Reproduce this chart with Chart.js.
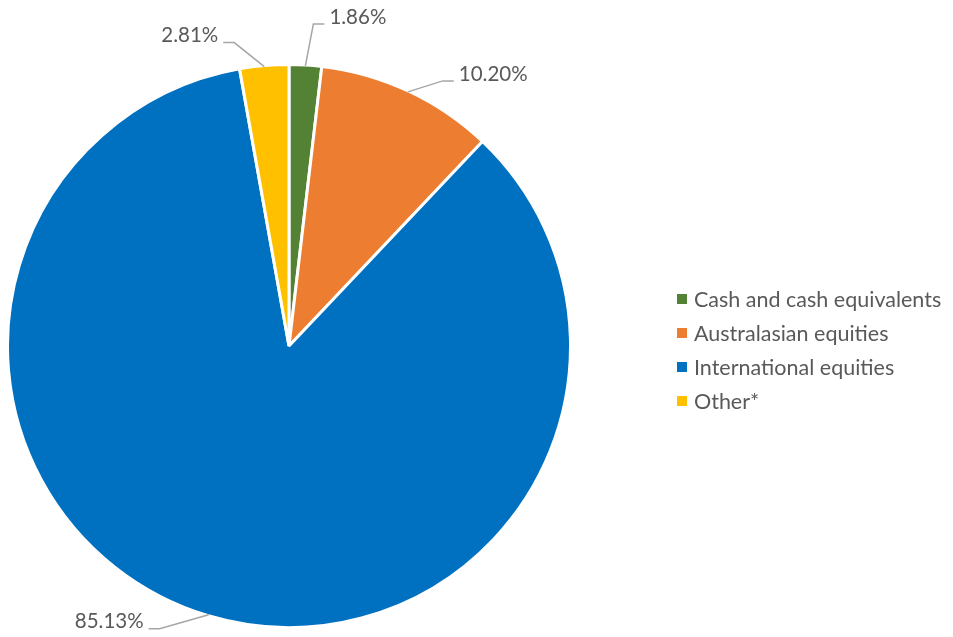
<!DOCTYPE html>
<html>
<head>
<meta charset="utf-8">
<script src="https://cdn.jsdelivr.net/npm/chart.js@4"></script>
<style>
	html, body {
		margin: 0;
		padding: 0;
		background: #ffffff;
	}

	.chart-wrap {
		position: relative;
		width: 953px;
		height: 637px;
	}

	.legend {
		position: absolute;
		left: 677px;
		top: 282px;
		margin: 0;
		padding: 0;
		list-style: none;
		font-family: Lato, "Open Sans", sans-serif;
		font-size: 21.5px;
		color: #595959;
	}

	.legend li {
		display: flex;
		align-items: center;
		height: 34px;
		white-space: nowrap;
	}

	.legend .swatch {
		display: inline-block;
		width: 10px;
		height: 10px;
		margin-right: 7px;
	}
</style>
</head>
<body>
<div class="chart-wrap">
	<canvas id="allocationChart" width="953" height="637"></canvas>
	<ul class="legend" id="allocationLegend"></ul>
</div>
<script>
const categories = [
	"Cash and cash equivalents",
	"Australasian equities",
	"International equities",
	"Other*"
];

const shares = [1.86, 10.20, 85.13, 2.81];

const sliceColors = ["#548235", "#ED7D31", "#0070C0", "#FFC000"];

/* leader line elbows, relative to the slice edge */
const leaderOffsets = [
	[8, -42],
	[35, -11],
	[-49, 14],
	[-30, -24]
];

const leaderLabels = {
	id: "leaderLabels",
	afterDatasetsDraw(chart) {
		const { ctx } = chart;
		const meta = chart.getDatasetMeta(0);

		ctx.save();
		ctx.font = "20.5px Lato, 'Open Sans', sans-serif";
		ctx.textBaseline = "middle";

		meta.data.forEach((arc, i) => {
			const { x, y, startAngle, endAngle, outerRadius } = arc.getProps(
				["x", "y", "startAngle", "endAngle", "outerRadius"],
				true
			);
			const mid = (startAngle + endAngle) / 2;
			const edgeX = x + Math.cos(mid) * (outerRadius - 1);
			const edgeY = y + Math.sin(mid) * (outerRadius - 1);
			const elbowX = edgeX + leaderOffsets[i][0];
			const elbowY = edgeY + leaderOffsets[i][1];
			const side = leaderOffsets[i][0] >= 0 ? 1 : -1;
			const endX = elbowX + side * 11;

			ctx.strokeStyle = "#A6A6A6";
			ctx.lineWidth = 1.5;
			ctx.beginPath();
			ctx.moveTo(edgeX, edgeY);
			ctx.lineTo(elbowX, elbowY);
			ctx.lineTo(endX, elbowY);
			ctx.stroke();

			ctx.fillStyle = "#595959";
			ctx.textAlign = side > 0 ? "left" : "right";
			ctx.fillText(shares[i].toFixed(2) + "%", endX + side * 5, elbowY - 7);
		});

		ctx.restore();
	}
};

const legendList = document.getElementById("allocationLegend");

categories.forEach((name, i) => {
	const item = document.createElement("li");
	const swatch = document.createElement("span");
	swatch.className = "swatch";
	swatch.style.background = sliceColors[i];
	item.appendChild(swatch);
	item.appendChild(document.createTextNode(name));
	legendList.appendChild(item);
});

new Chart(document.getElementById("allocationChart"), {
	type: "pie",
	data: {
		labels: categories,
		datasets: [{
			data: shares,
			backgroundColor: sliceColors,
			borderColor: "#ffffff",
			borderWidth: 3
		}]
	},
	options: {
		responsive: false,
		animation: false,
		layout: {
			padding: {
				left: 6,
				right: 381,
				top: 63,
				bottom: 8
			}
		},
		plugins: {
			legend: {
				display: false
			},
			tooltip: {
				enabled: false
			}
		}
	},
	plugins: [leaderLabels]
});
</script>
</body>
</html>
